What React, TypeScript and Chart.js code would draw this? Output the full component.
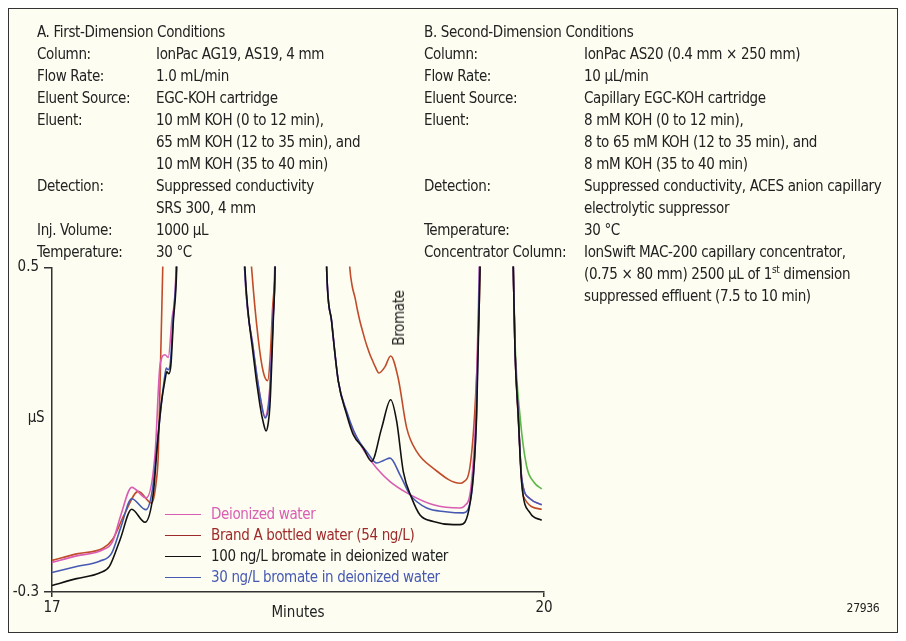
import React, { useEffect, useRef } from "react";
import { Chart, registerables } from "chart.js";

Chart.register(...registerables);

// ---------- data ----------
const xTicks = [17, 20];
const yTicks = [-0.3, 0.5];

const deionizedX = [17.00, 17.15, 17.31, 17.37, 17.42, 17.486, 17.575, 17.628, 17.659, 17.689, 17.709, 17.730, 17.756, 17.77, 17.95, 18.15, 18.175, 18.227, 18.268, 18.30, 18.318, 18.329, 18.349, 18.360, 18.37, 18.52, 18.66, 18.675, 18.705, 18.746, 18.797, 18.837, 18.878, 18.919, 18.980, 19.061, 19.183, 19.325, 19.488, 19.515, 19.555, 19.585, 19.605, 19.62, 19.71, 19.80, 19.813, 19.823, 19.843, 19.864, 19.915, 19.986];
const deionizedY = [-0.227, -0.211, -0.196, -0.175, -0.11, -0.042, -0.068, 0.038, 0.26, 0.285, 0.278, 0.367, 0.494, 0.8, 3, 0.8, 0.494, 0.30, 0.185, 0.132, 0.16, 0.21, 0.39, 0.494, 0.8, 3, 0.8, 0.494, 0.367, 0.219, 0.142, 0.097, 0.065, 0.038, 0.005, -0.028, -0.060, -0.085, -0.093, -0.088, -0.04, 0.15, 0.494, 0.8, 3, 0.8, 0.494, 0.30, 0.14, -0.02, -0.07, -0.085];

const brandAX = [17.00, 17.15, 17.31, 17.37, 17.44, 17.526, 17.608, 17.635, 17.648, 17.663, 17.675, 17.69, 17.90, 18.17, 18.218, 18.257, 18.288, 18.315, 18.329, 18.345, 18.358, 18.37, 18.55, 18.79, 18.805, 18.817, 18.83, 18.848, 18.863, 18.878, 18.894, 18.909, 18.924, 18.939, 18.955, 18.970, 18.994, 19.030, 19.065, 19.111, 19.163, 19.224, 19.325, 19.488, 19.508, 19.549, 19.585, 19.610, 19.62, 19.71, 19.80, 19.813, 19.823, 19.843, 19.874, 19.986];
const brandAY = [-0.222, -0.206, -0.192, -0.17, -0.11, -0.052, -0.081, -0.03, 0.038, 0.285, 0.494, 0.8, 3, 0.8, 0.494, 0.326, 0.243, 0.221, 0.27, 0.40, 0.494, 0.8, 3, 0.75, 0.575, 0.494, 0.455, 0.425, 0.394, 0.367, 0.343, 0.321, 0.302, 0.285, 0.270, 0.256, 0.240, 0.255, 0.282, 0.227, 0.104, 0.046, 0.005, -0.032, -0.029, 0.010, 0.2, 0.494, 0.8, 3, 0.8, 0.494, 0.30, 0.13, -0.064, -0.096];

const bromate100X = [17.00, 17.15, 17.29, 17.35, 17.415, 17.486, 17.567, 17.618, 17.640, 17.665, 17.690, 17.700, 17.712, 17.725, 17.740, 17.760, 17.775, 17.95, 18.15, 18.177, 18.227, 18.268, 18.290, 18.305, 18.318, 18.329, 18.349, 18.360, 18.37, 18.52, 18.66, 18.675, 18.705, 18.746, 18.797, 18.837, 18.898, 18.949, 19.010, 19.065, 19.102, 19.142, 19.193, 19.244, 19.325, 19.447, 19.488, 19.549, 19.589, 19.610, 19.62, 19.71, 19.80, 19.813, 19.823, 19.843, 19.864, 19.915, 19.986];
const bromate100Y = [-0.284, -0.267, -0.253, -0.237, -0.171, -0.096, -0.128, -0.056, 0.05, 0.16, 0.225, 0.243, 0.238, 0.26, 0.367, 0.494, 0.8, 3, 0.8, 0.494, 0.285, 0.161, 0.115, 0.097, 0.115, 0.161, 0.367, 0.494, 0.8, 3, 0.8, 0.494, 0.367, 0.219, 0.137, 0.088, 0.055, 0.022, 0.104, 0.174, 0.120, -0.003, -0.068, -0.110, -0.126, -0.134, -0.134, -0.081, 0.133, 0.494, 0.8, 3, 0.8, 0.494, 0.297, 0.133, -0.032, -0.105, -0.123];

const bromate30X = [17.00, 17.15, 17.29, 17.364, 17.42, 17.486, 17.573, 17.615, 17.645, 17.685, 17.697, 17.708, 17.720, 17.740, 17.758, 17.775, 17.95, 18.15, 18.175, 18.227, 18.268, 18.30, 18.318, 18.329, 18.349, 18.360, 18.37, 18.52, 18.66, 18.675, 18.705, 18.746, 18.797, 18.837, 18.878, 18.919, 18.980, 19.025, 19.061, 19.122, 19.183, 19.285, 19.40, 19.508, 19.559, 19.589, 19.607, 19.62, 19.71, 19.80, 19.813, 19.823, 19.843, 19.864, 19.915, 19.986];
const bromate30Y = [-0.252, -0.237, -0.224, -0.204, -0.14, -0.070, -0.097, -0.04, 0.08, 0.225, 0.252, 0.248, 0.26, 0.38, 0.494, 0.8, 3, 0.8, 0.494, 0.30, 0.185, 0.129, 0.15, 0.20, 0.38, 0.494, 0.8, 3, 0.8, 0.494, 0.367, 0.219, 0.145, 0.100, 0.068, 0.046, 0.018, 0.025, 0.030, -0.011, -0.060, -0.093, -0.102, -0.105, -0.056, 0.15, 0.494, 0.8, 3, 0.8, 0.494, 0.30, 0.14, -0.02, -0.07, -0.085];

const extraX = [19.78, 19.80, 19.813, 19.823, 19.854, 19.894, 19.940, 19.986];
const extraY = [1.5, 0.8, 0.494, 0.32, 0.133, 0.010, -0.030, -0.046];

const legendLabels = [
  "Deionized water",
  "Brand A bottled water (54 ng/L)",
  "100 ng/L bromate in deionized water",
  "30 ng/L bromate in deionized water",
];

const conditionsA: [string, string][] = [
  ["Column:", "IonPac AG19, AS19, 4 mm"],
  ["Flow Rate:", "1.0 mL/min"],
  ["Eluent Source:", "EGC-KOH cartridge"],
  ["Eluent:", "10 mM KOH (0 to 12 min),"],
  ["", "65 mM KOH (12 to 35 min), and"],
  ["", "10 mM KOH (35 to 40 min)"],
  ["Detection:", "Suppressed conductivity"],
  ["", "SRS 300, 4 mm"],
  ["Inj. Volume:", "1000 µL"],
  ["Temperature:", "30 °C"],
];

const conditionsB: [string, string][] = [
  ["Column:", "IonPac AS20 (0.4 mm × 250 mm)"],
  ["Flow Rate:", "10 µL/min"],
  ["Eluent Source:", "Capillary EGC-KOH cartridge"],
  ["Eluent:", "8 mM KOH (0 to 12 min),"],
  ["", "8 to 65 mM KOH (12 to 35 min), and"],
  ["", "8 mM KOH (35 to 40 min)"],
  ["Detection:", "Suppressed conductivity, ACES anion capillary"],
  ["", "electrolytic suppressor"],
  ["Temperature:", "30 °C"],
  ["Concentrator Column:", "IonSwift MAC-200 capillary concentrator,"],
  ["", "(0.75 × 80 mm) 2500 µL of 1^st^ dimension"],
  ["", "suppressed effluent (7.5 to 10 min)"],
];

// ---------- styles ----------
const FONT = "'Liberation Sans Narrow', 'DejaVu Sans Condensed', 'Roboto Condensed', 'Liberation Sans', Arial, sans-serif";
const FS = 15;
const LS = "-0.35px";
const TEXT = "#222222";
const C_PINK = "#d95db3";
const C_BROWN = "#c04c2b";
const C_BROWN_TEXT = "#9e2a2b";
const C_BLACK = "#111111";
const C_BLUE = "#4759b3";
const C_GREEN = "#5cb848";
const legendLineColors = [C_PINK, C_BROWN_TEXT, C_BLACK, C_BLUE];
const legendTextColors = [C_PINK, C_BROWN_TEXT, "#222222", C_BLUE];

const toPts = (xs: number[], ys: number[]) => xs.map((x, i) => ({ x, y: ys[i] }));

function renderValue(v: string) {
  const parts = v.split("^");
  return parts.map((p, i) =>
    i % 2 === 1 ? (
      <sup key={i} style={{ fontSize: 10, lineHeight: 0, verticalAlign: "6px" }}>{p}</sup>
    ) : (
      <span key={i}>{p}</span>
    )
  );
}

function Block({ title, rows, left, top, labelW }: { title: string; rows: [string, string][]; left: number; top: number; labelW: number }) {
  return (
    <div style={{ position: "absolute", left, top, fontSize: FS, letterSpacing: LS, lineHeight: "22px", color: TEXT, whiteSpace: "nowrap" }}>
      <div>{title}</div>
      {rows.map((r, i) => (
        <div key={i} style={{ display: "flex" }}>
          <div style={{ width: labelW, flex: "none" }}>{r[0]}</div>
          <div>{renderValue(r[1])}</div>
        </div>
      ))}
    </div>
  );
}

export default function App() {
  const ref = useRef<HTMLCanvasElement>(null);

  useEffect(() => {
    if (!ref.current) return;
    const lw = 1.6;
    const common = { borderWidth: lw, pointRadius: 0, fill: false, cubicInterpolationMode: "monotone" as const, clip: 1 };
    const tickFont = { family: FONT, size: FS };
    const chart = new Chart(ref.current, {
      type: "line",
      data: {
        datasets: [
          { ...common, label: legendLabels[2], data: toPts(bromate100X, bromate100Y), borderColor: C_BLACK },
          { ...common, label: legendLabels[3], data: toPts(bromate30X, bromate30Y), borderColor: C_BLUE },
          { ...common, label: legendLabels[0], data: toPts(deionizedX, deionizedY), borderColor: C_PINK },
          { ...common, label: legendLabels[1], data: toPts(brandAX, brandAY), borderColor: C_BROWN },
          { ...common, label: "extra", data: toPts(extraX, extraY), borderColor: C_GREEN },
        ],
      },
      options: {
        animation: false,
        responsive: false,
        events: [],
        layout: { padding: { left: 0, top: 258.5, right: 353, bottom: 0 } },
        plugins: { legend: { display: false }, tooltip: { enabled: false } },
        scales: {
          x: {
            type: "linear",
            min: xTicks[0],
            max: xTicks[1],
            afterBuildTicks: (s: any) => { s.ticks = xTicks.map((v) => ({ value: v })); },
            afterFit: (s: any) => { s.height = 40; },
            ticks: { font: tickFont, color: TEXT, padding: 2, maxRotation: 0, callback: (v: any) => String(v) },
            grid: { drawOnChartArea: false, drawTicks: true, tickLength: 5, color: "#333", lineWidth: 1.5 },
            border: { display: true, color: "#333", width: 1.5 },
            title: { display: true, text: "Minutes", font: tickFont, color: TEXT, padding: { top: 4, bottom: 10 } },
          },
          y: {
            type: "linear",
            min: yTicks[0],
            max: yTicks[1],
            afterBuildTicks: (s: any) => { s.ticks = yTicks.map((v) => ({ value: v })); },
            afterFit: (s: any) => { s.width = 43; },
            ticks: { font: tickFont, color: TEXT, padding: 5, callback: (v: any) => String(v) },
            grid: { drawOnChartArea: false, drawTicks: true, tickLength: 8, color: "#333", lineWidth: 1.5 },
            border: { display: true, color: "#333", width: 1.5 },
          },
        },
      },
    });
    return () => chart.destroy();
  }, []);

  return (
    <div
      style={{
        position: "relative",
        width: 890,
        height: 625,
        boxSizing: "border-box",
        border: "1px solid #333",
        background: "#fdfdf1",
        fontFamily: FONT,
        color: TEXT,
        overflow: "hidden",
      }}
    >
      <canvas ref={ref} width={888} height={623} style={{ position: "absolute", left: 0, top: 0, width: 888, height: 623 }} />
      <Block title="A. First-Dimension Conditions" rows={conditionsA} left={28} top={12} labelW={119} />
      <Block title="B. Second-Dimension Conditions" rows={conditionsB} left={415} top={12} labelW={160} />
      <div style={{ position: "absolute", left: 9, top: 397, width: 36, textAlign: "center", fontSize: FS, letterSpacing: LS, lineHeight: "22px" }}>µS</div>
      <div
        style={{
          position: "absolute",
          left: 390,
          top: 309,
          fontSize: FS,
          letterSpacing: LS,
          lineHeight: "20px",
          transform: "translate(-50%, -50%) rotate(-90deg)",
          whiteSpace: "nowrap",
        }}
      >
        Bromate
      </div>
      {legendLabels.map((lab, i) => (
        <div key={i} style={{ position: "absolute", left: 156, top: 494 + i * 21, height: 22, display: "flex", alignItems: "center", whiteSpace: "nowrap" }}>
          <div style={{ width: 36, height: 0, borderTop: `1.5px solid ${legendLineColors[i]}`, marginRight: 10 }} />
          <div style={{ fontSize: FS, letterSpacing: LS, lineHeight: "22px", color: legendTextColors[i] }}>{lab}</div>
        </div>
      ))}
      <div style={{ position: "absolute", left: 824, top: 590, width: 60, textAlign: "center", fontSize: 12, letterSpacing: "-0.3px", lineHeight: "18px" }}>27936</div>
    </div>
  );
}
